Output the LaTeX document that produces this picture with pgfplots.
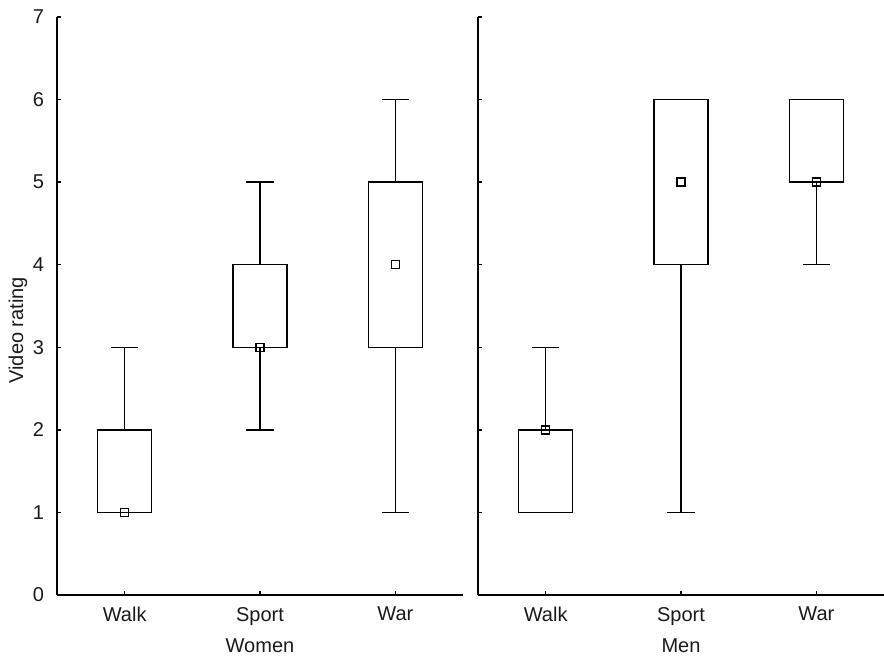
\documentclass[border=0pt]{standalone}
\usepackage{fontspec}
\setmainfont{Liberation Sans}
\usepackage{pgfplots}
\pgfplotsset{compat=1.18}
\usepgfplotslibrary{statistics}
\definecolor{txt}{HTML}{1A1A1A}
\begin{document}
\begin{tikzpicture}
\pgfplotsset{
 myaxis/.style={
  scale only axis, width=203pt, height=289pt,
  xmin=-0.5, xmax=2.5, ymin=0, ymax=7,
  axis x line=bottom, axis y line=left,
  axis line style={-, line width=1pt, black},
  tick align=inside, major tick length=2.2pt,
  tick style={line width=0.7pt, black},
  xtick={0,1,2}, xticklabels={Walk,Sport,War},
  ytick={0,1,2,3,4,5,6,7},
  font=\fontsize{10}{12}\selectfont,
  /pgf/number format/assume math mode=true,
  yticklabel style={anchor=east, xshift=-3pt, text=txt},
  xticklabel style={anchor=north, yshift=-2.5pt, text=txt},
  xlabel style={at={(axis description cs:0.5,0)}, anchor=center, yshift=-25.5pt, text=txt},
  boxplot/draw direction=y,
  boxplot/box extend=0.4, boxplot/whisker extend=0.2,
  boxplot/every median/.style={draw=none},
  clip=false,
 }
}
\path[use as bounding box] (-28.5pt,-30.5pt) rectangle (413.5pt,297.5pt);
\begin{axis}[myaxis, at={(0pt,0pt)}, anchor=south west, xlabel={Women}, ylabel={Video rating},
  ylabel style={at={(axis description cs:-0.096,0.458)}, anchor=center, text=txt}]
\addplot[black, line width=0.7pt, boxplot prepared={draw position=0, lower whisker=1, lower quartile=1, median=1, upper quartile=2, upper whisker=3}] coordinates {};
\addplot[black, line width=0.7pt, boxplot prepared={draw position=1, lower whisker=2, lower quartile=3, median=3, upper quartile=4, upper whisker=5}] coordinates {};
\addplot[black, line width=0.7pt, boxplot prepared={draw position=2, lower whisker=1, lower quartile=3, median=4, upper quartile=5, upper whisker=6}] coordinates {};
\addplot[only marks, mark=square, mark size=2pt, mark options={line width=0.7pt, black, fill=white}] coordinates {(0,1) (1,3) (2,4)};
\end{axis}
\begin{axis}[myaxis, at={(210.5pt,0pt)}, anchor=south west, xlabel={Men}, yticklabels={}]
\addplot[black, line width=0.7pt, boxplot prepared={draw position=0, lower whisker=1, lower quartile=1, median=2, upper quartile=2, upper whisker=3}] coordinates {};
\addplot[black, line width=0.7pt, boxplot prepared={draw position=1, lower whisker=1, lower quartile=4, median=5, upper quartile=6, upper whisker=6}] coordinates {};
\addplot[black, line width=0.7pt, boxplot prepared={draw position=2, lower whisker=4, lower quartile=5, median=5, upper quartile=6, upper whisker=6}] coordinates {};
\addplot[only marks, mark=square, mark size=2pt, mark options={line width=0.7pt, black, fill=white}] coordinates {(0,2) (1,5) (2,5)};
\end{axis}
\end{tikzpicture}
\end{document}
